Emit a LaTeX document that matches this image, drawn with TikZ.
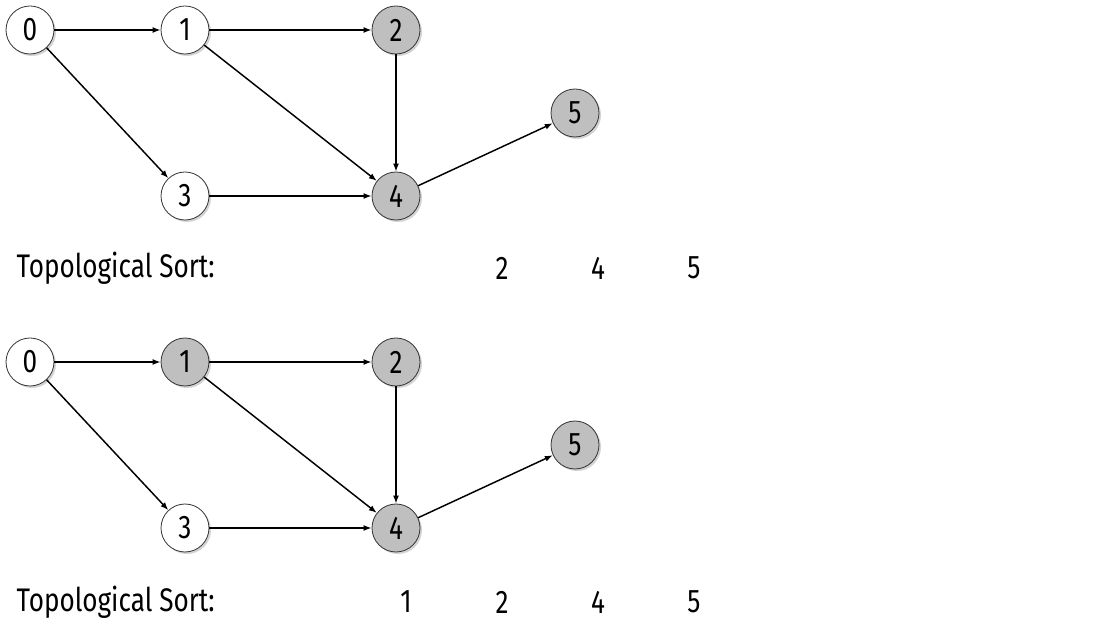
\documentclass[tikz,border=0pt]{standalone}
\usepackage{fontspec}
\setmainfont{Fira Sans}[FakeStretch=0.8]
\usetikzlibrary{positioning,shadows,arrows.meta}
\begin{document}
\begin{tikzpicture}[main/.style = {draw=black!80, line width=0.6pt, circle, fill=white, minimum size=36pt, inner sep=0pt, font=\fontsize{24.5}{24.5}\selectfont, drop shadow={shadow xshift=1.5pt, shadow yshift=-1.5pt, opacity=0.35}},
    done/.style = {main, fill=black!25},
    edge/.style = {line width=1.1pt, -{Latex[length=6pt,width=4.5pt]}},
    sorttext/.style = {font=\fontsize{24.5}{24.5}\selectfont, anchor=west},
    sortnum/.style = {font=\fontsize{24.5}{24.5}\selectfont},
    node distance=116.25pt, on grid]
    \useasboundingbox (0,0) rectangle (835.5pt,-472.5pt);
            % first step
            \node[main] (a0) at (22.5pt,-22.5pt) {0};
            \node[main] (a1) [right=116.25pt of a0] {1};
            \node[done] (a2) [right=158.25pt of a1] {2};
            \node[main] (a3) [below=124.5pt of a1] {3};
            \node[done] (a4) [right=158.25pt of a3] {4};
            \node[done] (a5) [above right=62.25pt and 134.25pt of a4] {5};
            \draw[edge] (a0) -- (a1);
            \draw[edge] (a0) -- (a3);
            \draw[edge] (a1) -- (a2);
            \draw[edge] (a1) -- (a4);
            \draw[edge] (a2) -- (a4);
            \draw[edge] (a3) -- (a4);
            \draw[edge] (a4) -- (a5);
            \node[sorttext] (atext) at (9pt,-201pt) {Topological Sort:};
            \node[sortnum] (an2) at (376.5pt,-201pt) {2};
            \node[sortnum] (an4) [right=72pt of an2] {4};
            \node[sortnum] (an5) [right=72pt of an4] {5};
            % second step
            \node[main] (b0) [below=249pt of a0] {0};
            \node[done] (b1) [right=116.25pt of b0] {1};
            \node[done] (b2) [right=158.25pt of b1] {2};
            \node[main] (b3) [below=124.5pt of b1] {3};
            \node[done] (b4) [right=158.25pt of b3] {4};
            \node[done] (b5) [above right=62.25pt and 134.25pt of b4] {5};
            \draw[edge] (b0) -- (b1);
            \draw[edge] (b0) -- (b3);
            \draw[edge] (b1) -- (b2);
            \draw[edge] (b1) -- (b4);
            \draw[edge] (b2) -- (b4);
            \draw[edge] (b3) -- (b4);
            \draw[edge] (b4) -- (b5);
            \node[sorttext] (btext) at (9pt,-451.5pt) {Topological Sort:};
            \node[sortnum] (bn1) at (304.5pt,-451.5pt) {1};
            \node[sortnum] (bn2) [right=72pt of bn1] {2};
            \node[sortnum] (bn4) [right=72pt of bn2] {4};
            \node[sortnum] (bn5) [right=72pt of bn4] {5};
        \end{tikzpicture}
\end{document}
